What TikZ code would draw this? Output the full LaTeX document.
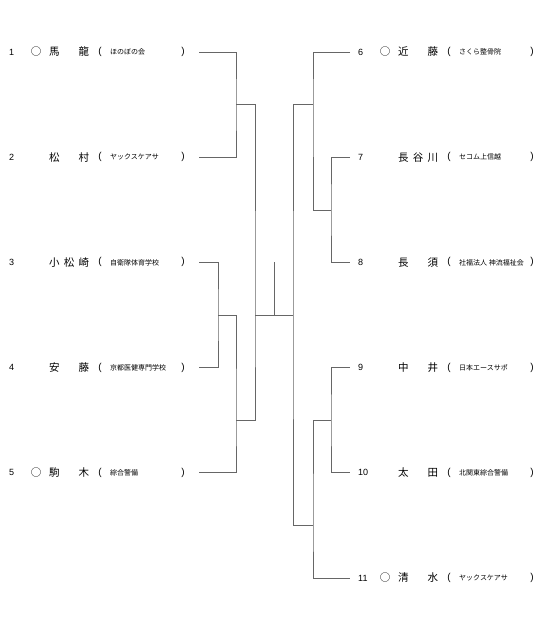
\documentclass[tikz,border=0pt]{standalone}
\usepackage{fontspec}
\setmainfont{Liberation Sans}
\newfontfamily\cjk{Noto Sans CJK JP}
\begin{document}
\begin{tikzpicture}[
    x=1pt, y=-1pt,
    numlabel/.style={anchor=west, inner sep=0pt, font=\fontsize{9}{9}\selectfont},
    player/.style={inner sep=0pt, font=\cjk\fontsize{10.5}{11}\selectfont},
    affil/.style={anchor=west, inner sep=0pt, font=\cjk\fontsize{7}{8}\selectfont},
    paren/.style={inner sep=0pt, font=\fontsize{10}{11}\selectfont},
    wire/.style={draw=black!60, line width=0.9pt}
]
\useasboundingbox (0,0) rectangle (550,634);

% entries: number / seed mark / name / team / row / x offset / line end
\foreach \n/\ring/\pname/\org/\y/\dx/\sx in {
    1/○/馬\hfill 龍/ほのぼの会/52/0/199,
    2//松\hfill 村/ヤックスケアサ/157.2/0/199,
    3//小\hfill 松\hfill 崎/自衛隊体育学校/262.4/0/199,
    4//安\hfill 藤/京都医健専門学校/367.6/0/199,
    5/○/駒\hfill 木/綜合警備/472.8/0/199,
    6/○/近\hfill 藤/さくら整骨院/52/349/350,
    7//長\hfill 谷\hfill 川/セコム上信越/157.2/349/350,
    8//長\hfill 須/社福法人 神流福祉会/262.4/349/350,
    9//中\hfill 井/日本エースサポ/367.6/349/350,
    10//太\hfill 田/北関東綜合警備/472.8/349/350,
    11/○/清\hfill 水/ヤックスケアサ/578/349/350}
{
  \node[numlabel] (n\n) at (9+\dx,\y) {\n};
  \node[player] (r\n) at (36+\dx,\y) {\ring};
  \node[player, anchor=west] (p\n) at (49+\dx,\y) {\makebox[40pt][s]{\pname}};
  \node[paren] (a\n) at (100+\dx,\y) {(};
  \node[affil] (t\n) at (110+\dx,\y) {\org};
  \node[paren] (b\n) at (183+\dx,\y) {)};
  \coordinate (s\n) at (\sx,\y);
}

% bracket joins
\coordinate (m12) at (236,104.6);
\coordinate (m34) at (218,315.2);
\coordinate (m345) at (236,420.8);
\coordinate (mL) at (255,315.2);
\coordinate (m78) at (331,210);
\coordinate (m678) at (313,104.6);
\coordinate (m910) at (331,420.8);
\coordinate (m91011) at (313,525.6);
\coordinate (mR) at (293,315.2);
\coordinate (top) at (274,262.4);

\draw[wire] (s1) -| (m12) |- (s2);
\draw[wire] (s3) -| (m34) |- (s4);
\draw[wire] (m34) -| (m345) |- (s5);
\draw[wire] (m12) -| (mL) |- (m345);
\draw[wire] (s7) -| (m78) |- (s8);
\draw[wire] (s6) -| (m678) |- (m78);
\draw[wire] (s9) -| (m910) |- (s10);
\draw[wire] (m910) -| (m91011) |- (s11);
\draw[wire] (m678) -| (mR) |- (m91011);
\draw[wire] (mL) -- (mR);
\draw[wire] (top) -- (top |- mL);
\end{tikzpicture}
\end{document}
